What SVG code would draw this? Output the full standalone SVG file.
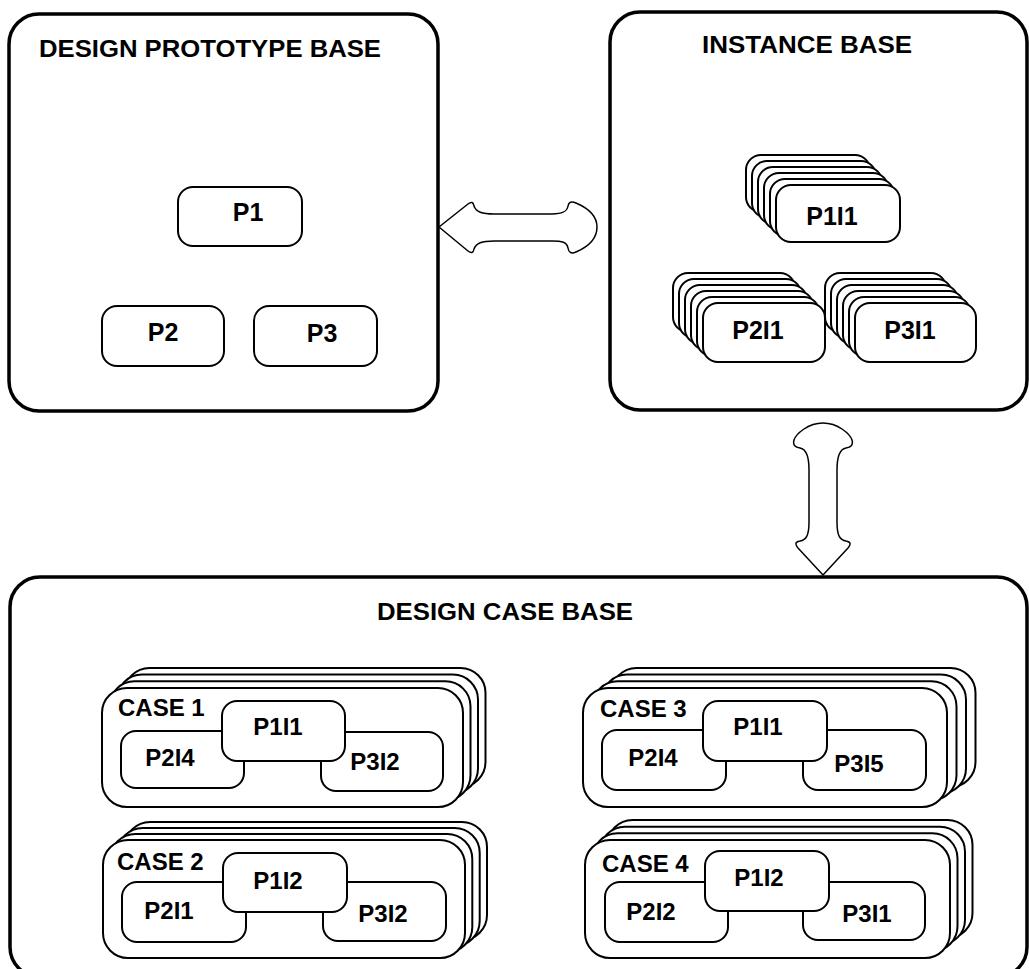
<svg xmlns="http://www.w3.org/2000/svg" width="1029" height="969" viewBox="0 0 1029 969">
<style>
  .base { fill: #ffffff; stroke: #000000; stroke-width: 3.5; }
  .box { fill: #ffffff; stroke: #000000; stroke-width: 2; }
  .arrow { fill: #ffffff; stroke: #000000; stroke-width: 1.5; stroke-linejoin: round; }
  text { font-family: "Liberation Sans", Arial, Helvetica, sans-serif; font-weight: bold; font-size: 24px; fill: #000000; }
  .mid { text-anchor: middle; }
  .big { font-size: 25px; }
</style>
<rect width="1029" height="969" fill="#ffffff"/>

<g id="design-prototype-base">
  <rect class="base" x="9" y="14" width="429" height="397" rx="30"/>
  <text x="39" y="57" textLength="342" lengthAdjust="spacingAndGlyphs">DESIGN PROTOTYPE BASE</text>
</g>
<g id="p1">
  <rect class="box" x="178" y="187" width="124" height="59" rx="15"/>
  <text class="mid big" x="248" y="221">P1</text>
</g>
<g id="p2">
  <rect class="box" x="102" y="306" width="122" height="60" rx="15"/>
  <text class="mid big" x="163" y="341">P2</text>
</g>
<g id="p3">
  <rect class="box" x="254" y="306" width="123" height="60" rx="15"/>
  <text class="mid big" x="322" y="342">P3</text>
</g>

<g id="instance-base">
  <rect class="base" x="610" y="12" width="417" height="398" rx="30"/>
  <text x="702" y="53" textLength="210" lengthAdjust="spacingAndGlyphs">INSTANCE BASE</text>
</g>
<g id="p1i1-stack">
  <rect class="box" x="746" y="155" width="124" height="57" rx="15"/>
  <rect class="box" x="752" y="161" width="124" height="57" rx="15"/>
  <rect class="box" x="758" y="167" width="124" height="57" rx="15"/>
  <rect class="box" x="764" y="173" width="124" height="57" rx="15"/>
  <rect class="box" x="770" y="179" width="124" height="57" rx="15"/>
  <rect class="box" x="776" y="185" width="124" height="57" rx="15"/>
  <text class="mid big" x="832" y="225">P1I1</text>
</g>
<g id="p2i1-stack">
  <rect class="box" x="673" y="273" width="122" height="59" rx="15"/>
  <rect class="box" x="679" y="279" width="122" height="59" rx="15"/>
  <rect class="box" x="685" y="285" width="122" height="59" rx="15"/>
  <rect class="box" x="691" y="291" width="122" height="59" rx="15"/>
  <rect class="box" x="697" y="297" width="122" height="59" rx="15"/>
  <rect class="box" x="703" y="303" width="122" height="59" rx="15"/>
  <text class="mid big" x="758" y="339">P2I1</text>
</g>
<g id="p3i1-stack">
  <rect class="box" x="825" y="273" width="121" height="59" rx="15"/>
  <rect class="box" x="831" y="279" width="121" height="59" rx="15"/>
  <rect class="box" x="837" y="285" width="121" height="59" rx="15"/>
  <rect class="box" x="843" y="291" width="121" height="59" rx="15"/>
  <rect class="box" x="849" y="297" width="121" height="59" rx="15"/>
  <rect class="box" x="855" y="303" width="121" height="59" rx="15"/>
  <text class="mid big" x="910" y="339">P3I1</text>
</g>

<g id="design-case-base">
  <rect class="base" x="10" y="577" width="1017" height="400" rx="30"/>
  <text x="377" y="620" textLength="256" lengthAdjust="spacingAndGlyphs">DESIGN CASE BASE</text>
</g>

<g id="case1">
  <rect class="box" x="124.5" y="668" width="361" height="119" rx="25"/>
  <rect class="box" x="117" y="674.6" width="361" height="119" rx="25"/>
  <rect class="box" x="109.5" y="681.3" width="361" height="119" rx="25"/>
  <rect class="box" x="102" y="688" width="361" height="119" rx="25"/>
  <text x="118" y="716">CASE 1</text>
  <rect class="box" x="121" y="731" width="123" height="57" rx="15"/>
  <text class="mid" x="170" y="766">P2I4</text>
  <rect class="box" x="321" y="732" width="122" height="59" rx="15"/>
  <text class="mid" x="375" y="770">P3I2</text>
  <rect class="box" x="222" y="701" width="123" height="60" rx="15"/>
  <text class="mid" x="278" y="735">P1I1</text>
</g>

<g id="case2">
  <rect class="box" x="125" y="822" width="362" height="118" rx="25"/>
  <rect class="box" x="117.7" y="828" width="362" height="118" rx="25"/>
  <rect class="box" x="110.3" y="834" width="362" height="118" rx="25"/>
  <rect class="box" x="103" y="840" width="362" height="118" rx="25"/>
  <text x="117" y="870">CASE 2</text>
  <rect class="box" x="122" y="882" width="124" height="60" rx="15"/>
  <text class="mid" x="169" y="919">P2I1</text>
  <rect class="box" x="323" y="882" width="123" height="59" rx="15"/>
  <text class="mid" x="383" y="922">P3I2</text>
  <rect class="box" x="223" y="853" width="124" height="59" rx="15"/>
  <text class="mid" x="278" y="889">P1I2</text>
</g>

<g id="case3">
  <rect class="box" x="611.5" y="668" width="364" height="119" rx="25"/>
  <rect class="box" x="602" y="674.6" width="364" height="119" rx="25"/>
  <rect class="box" x="592.5" y="681.3" width="364" height="119" rx="25"/>
  <rect class="box" x="583" y="688" width="364" height="119" rx="25"/>
  <text x="600" y="717">CASE 3</text>
  <rect class="box" x="602" y="730" width="124" height="60" rx="15"/>
  <text class="mid" x="653" y="766">P2I4</text>
  <rect class="box" x="803" y="730" width="123" height="60" rx="15"/>
  <text class="mid" x="859" y="772">P3I5</text>
  <rect class="box" x="703" y="701" width="124" height="60" rx="15"/>
  <text class="mid" x="758" y="735">P1I1</text>
</g>

<g id="case4">
  <rect class="box" x="607.5" y="820" width="365" height="118" rx="25"/>
  <rect class="box" x="600" y="826.7" width="365" height="118" rx="25"/>
  <rect class="box" x="592.5" y="833.3" width="365" height="118" rx="25"/>
  <rect class="box" x="585" y="840" width="365" height="118" rx="25"/>
  <text x="602" y="872">CASE 4</text>
  <rect class="box" x="605" y="882" width="123" height="60" rx="15"/>
  <text class="mid" x="651" y="920">P2I2</text>
  <rect class="box" x="803" y="882" width="122" height="58" rx="15"/>
  <text class="mid" x="867" y="922">P3I1</text>
  <rect class="box" x="705" y="851" width="124" height="60" rx="15"/>
  <text class="mid" x="759" y="886">P1I2</text>
</g>

<g id="connectors">
  <path class="arrow" d="M 439 227 L 468 204 Q 473 200 474 206 C 476 212 482 214 494 214 L 552 214 C 562 214 567 212 568 206 Q 569 200 576 203 C 590 209 597 217 597 227 C 597 237 590 246 576 252 Q 569 255 568 248 C 567 242 562 241 552 241 L 494 241 C 482 241 476 243 474 249 Q 473 255 468 251 Z"/>
  <path class="arrow" d="M 823 423 C 838 423 850 434 852 440 Q 854 447 846 448 C 840 449 837 456 837 470 L 837 522 C 837 536 840 540 846 541 Q 853 542 848 548 L 823 575 L 798 548 Q 793 542 800 541 C 806 540 809 536 809 522 L 809 470 C 809 456 806 449 800 448 Q 792 447 794 440 C 796 434 808 423 823 423 Z"/>
</g>
</svg>
